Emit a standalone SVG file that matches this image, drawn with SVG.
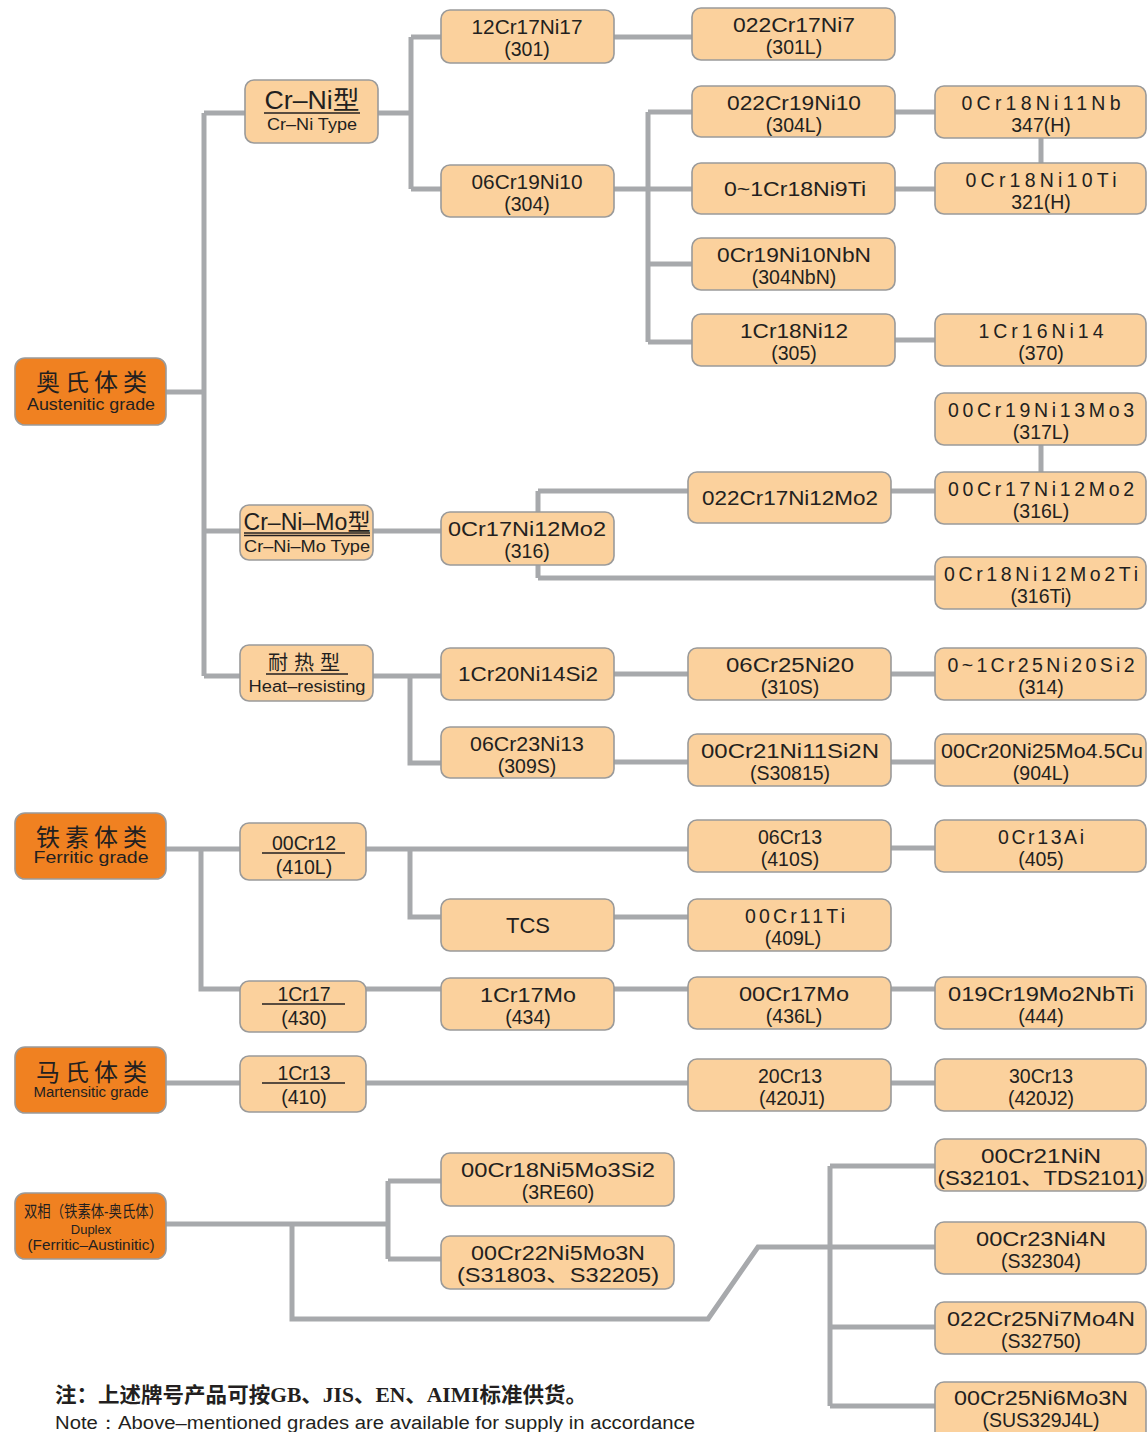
<svg xmlns="http://www.w3.org/2000/svg" width="1147" height="1432" viewBox="0 0 1147 1432">
<style>
.bg{fill:#ffffff}
.n{fill:#fbd19d;stroke:#9a9a9a;stroke-width:1.6}
.c{fill:#f08121;stroke:#9a9a9a;stroke-width:1.6}
.t{font-family:"Liberation Sans","Noto Sans CJK SC",sans-serif;font-size:19.5px;fill:#231f20;text-anchor:middle}
.sm{font-size:16px}
.cn{font-family:"Liberation Sans","Noto Sans CJK SC",sans-serif;font-size:24px;fill:#231f20;text-anchor:middle;letter-spacing:5px}
.ul{stroke:#231f20;stroke-width:1.3}
#connectors path{fill:none;stroke:#a7a9ac;stroke-width:5}
.note1{font-family:"Liberation Serif","Noto Sans CJK SC",serif;font-weight:bold;font-size:21px;fill:#231f20}
.note2{font-family:"Liberation Sans",sans-serif;font-size:18px;fill:#231f20}
</style>
<rect class="bg" x="0" y="0" width="1147" height="1432"/>
<g id="connectors">
<path d="M166,392 H204 M204,113 V676 M204,113 H245 M204,531 H240 M204,676 H240"/>
<path d="M378,113 H411 M411,37 V189 M411,37 H441 M411,189 H441"/>
<path d="M614,37 H692"/>
<path d="M614,189 H648 M648,112 V342 M648,112 H692 M648,189 H692 M648,264 H692 M648,342 H692"/>
<path d="M895,112 H935 M895,189 H935 M1041,138 V163 M895,340 H935"/>
<path d="M373,531 H441 M538,491 V578 M538,491 H688 M538,578 H935 M891,491 H935 M1041,445 V472"/>
<path d="M373,676 H441 M410,676 V763 H441 M614,674 H688 M891,674 H935 M614,762 H688 M891,762 H935"/>
<path d="M166,849 H240 M201,849 V989 H240 M366,849 H688 M410,849 V917 H441 M891,848 H935 M614,917 H688"/>
<path d="M366,989 H441 M614,989 H688 M891,989 H935"/>
<path d="M166,1083 H240 M366,1083 H688 M891,1083 H935"/>
<path d="M166,1224 H388 M388,1181 V1259 M388,1181 H441 M388,1259 H441 M292,1224 V1319 H708 L758,1247 H935 M830,1166 V1406 M830,1166 H935 M830,1327 H935 M830,1406 H935"/>
</g>

<g id="austenitic"><rect class="c" x="15" y="358" width="151" height="67" rx="10"/><text class="cn" x="94" y="391">奥氏体类</text><text class="t sm" x="91" y="410" textLength="128" lengthAdjust="spacingAndGlyphs">Austenitic grade</text></g>
<g id="ferritic"><rect class="c" x="15" y="813" width="151" height="66" rx="10"/><text class="cn" x="94" y="846">铁素体类</text><text class="t sm" x="91" y="863" textLength="115" lengthAdjust="spacingAndGlyphs">Ferritic grade</text></g>
<g id="martensitic"><rect class="c" x="15" y="1047" width="151" height="66" rx="10"/><text class="cn" x="94" y="1081">马氏体类</text><text class="t" x="91" y="1097" style="font-size:14px" textLength="115" lengthAdjust="spacingAndGlyphs">Martensitic grade</text></g>
<g id="duplex"><rect class="c" x="15" y="1193" width="151" height="66" rx="10"/><text class="t" x="93" y="1217" style="font-size:16px" textLength="138" lengthAdjust="spacingAndGlyphs">双相（铁素体-奥氏体）</text><text class="t" x="91" y="1234" style="font-size:13px">Duplex</text><text class="t" x="91" y="1250" style="font-size:14px" textLength="127" lengthAdjust="spacingAndGlyphs">(Ferritic–Austinitic)</text></g>

<g id="crni"><rect class="n" x="245" y="80" width="133" height="63" rx="9"/><text class="t" x="312" y="109" style="font-size:25px" textLength="95" lengthAdjust="spacingAndGlyphs">Cr–Ni型</text><line class="ul" x1="264" y1="113" x2="360" y2="113"/><text class="t sm" x="312" y="130" textLength="90" lengthAdjust="spacingAndGlyphs">Cr–Ni Type</text></g>
<g id="crnimo"><rect class="n" x="240" y="505" width="133" height="55" rx="9"/><text class="t" x="307" y="530" style="font-size:23px" textLength="127" lengthAdjust="spacingAndGlyphs">Cr–Ni–Mo型</text><line class="ul" x1="244" y1="533" x2="370" y2="533"/><line class="ul" x1="244" y1="535.5" x2="370" y2="535.5"/><text class="t sm" x="307" y="552" textLength="126" lengthAdjust="spacingAndGlyphs">Cr–Ni–Mo Type</text></g>
<g id="heat"><rect class="n" x="240" y="645" width="133" height="56" rx="9"/><text class="t" x="307" y="670" style="font-size:20px;letter-spacing:6px">耐热型</text><line class="ul" x1="266" y1="674" x2="348" y2="674"/><text class="t sm" x="307" y="692" textLength="117" lengthAdjust="spacingAndGlyphs">Heat–resisting</text></g>

<g id="n301"><rect class="n" x="441" y="10" width="173" height="53" rx="9"/><text class="t" x="527" y="34" textLength="111" lengthAdjust="spacingAndGlyphs">12Cr17Ni17</text><text class="t" x="527" y="56">(301)</text></g>
<g id="n304"><rect class="n" x="441" y="165" width="173" height="52" rx="9"/><text class="t" x="527" y="189" textLength="111" lengthAdjust="spacingAndGlyphs">06Cr19Ni10</text><text class="t" x="527" y="211">(304)</text></g>
<g id="n301l"><rect class="n" x="692" y="8" width="203" height="52" rx="9"/><text class="t" x="794" y="32" textLength="122" lengthAdjust="spacingAndGlyphs">022Cr17Ni7</text><text class="t" x="794" y="54">(301L)</text></g>
<g id="n304l"><rect class="n" x="692" y="86" width="203" height="51" rx="9"/><text class="t" x="794" y="110" textLength="134" lengthAdjust="spacingAndGlyphs">022Cr19Ni10</text><text class="t" x="794" y="132">(304L)</text></g>
<g id="n321"><rect class="n" x="692" y="163" width="203" height="51" rx="9"/><text class="t" x="795" y="196" textLength="142" lengthAdjust="spacingAndGlyphs">0~1Cr18Ni9Ti</text></g>
<g id="n304nbn"><rect class="n" x="692" y="238" width="203" height="52" rx="9"/><text class="t" x="794" y="262" textLength="154" lengthAdjust="spacingAndGlyphs">0Cr19Ni10NbN</text><text class="t" x="794" y="284">(304NbN)</text></g>
<g id="n305"><rect class="n" x="692" y="314" width="203" height="52" rx="9"/><text class="t" x="794" y="338" textLength="108" lengthAdjust="spacingAndGlyphs">1Cr18Ni12</text><text class="t" x="794" y="360">(305)</text></g>
<g id="n347h"><rect class="n" x="935" y="86" width="211" height="52" rx="9"/><text class="t" x="1041" y="110" textLength="159" lengthAdjust="spacing">0Cr18Ni11Nb</text><text class="t" x="1041" y="132">347(H)</text></g>
<g id="n321h"><rect class="n" x="935" y="163" width="211" height="51" rx="9"/><text class="t" x="1041" y="187" textLength="151" lengthAdjust="spacing">0Cr18Ni10Ti</text><text class="t" x="1041" y="209">321(H)</text></g>
<g id="n370"><rect class="n" x="935" y="314" width="211" height="52" rx="9"/><text class="t" x="1041" y="338" textLength="125" lengthAdjust="spacing">1Cr16Ni14</text><text class="t" x="1041" y="360">(370)</text></g>

<g id="n316"><rect class="n" x="441" y="512" width="173" height="53" rx="9"/><text class="t" x="527" y="536" textLength="158" lengthAdjust="spacingAndGlyphs">0Cr17Ni12Mo2</text><text class="t" x="527" y="558">(316)</text></g>
<g id="n022cr17"><rect class="n" x="688" y="472" width="203" height="51" rx="9"/><text class="t" x="790" y="505" textLength="176" lengthAdjust="spacingAndGlyphs">022Cr17Ni12Mo2</text></g>
<g id="n317l"><rect class="n" x="935" y="393" width="211" height="52" rx="9"/><text class="t" x="1041" y="417" textLength="186" lengthAdjust="spacing">00Cr19Ni13Mo3</text><text class="t" x="1041" y="439">(317L)</text></g>
<g id="n316l"><rect class="n" x="935" y="472" width="211" height="52" rx="9"/><text class="t" x="1041" y="496" textLength="186" lengthAdjust="spacing">00Cr17Ni12Mo2</text><text class="t" x="1041" y="518">(316L)</text></g>
<g id="n316ti"><rect class="n" x="935" y="557" width="211" height="52" rx="9"/><text class="t" x="1041" y="581" textLength="194" lengthAdjust="spacing">0Cr18Ni12Mo2Ti</text><text class="t" x="1041" y="603">(316Ti)</text></g>

<g id="n1cr20"><rect class="n" x="441" y="648" width="173" height="52" rx="9"/><text class="t" x="528" y="681" textLength="140" lengthAdjust="spacingAndGlyphs">1Cr20Ni14Si2</text></g>
<g id="n309s"><rect class="n" x="441" y="727" width="173" height="51" rx="9"/><text class="t" x="527" y="751" textLength="114" lengthAdjust="spacingAndGlyphs">06Cr23Ni13</text><text class="t" x="527" y="773">(309S)</text></g>
<g id="n310s"><rect class="n" x="688" y="648" width="203" height="52" rx="9"/><text class="t" x="790" y="672" textLength="128" lengthAdjust="spacingAndGlyphs">06Cr25Ni20</text><text class="t" x="790" y="694">(310S)</text></g>
<g id="n30815"><rect class="n" x="688" y="734" width="203" height="52" rx="9"/><text class="t" x="790" y="758" textLength="178" lengthAdjust="spacingAndGlyphs">00Cr21Ni11Si2N</text><text class="t" x="790" y="780">(S30815)</text></g>
<g id="n314"><rect class="n" x="935" y="648" width="211" height="52" rx="9"/><text class="t" x="1041" y="672" textLength="187" lengthAdjust="spacing">0~1Cr25Ni20Si2</text><text class="t" x="1041" y="694">(314)</text></g>
<g id="n904l"><rect class="n" x="935" y="734" width="211" height="52" rx="9"/><text class="t" x="1042" y="758" textLength="202" lengthAdjust="spacingAndGlyphs">00Cr20Ni25Mo4.5Cu</text><text class="t" x="1041" y="780">(904L)</text></g>

<g id="n410l"><rect class="n" x="240" y="823" width="126" height="57" rx="9"/><text class="t" x="304" y="850">00Cr12</text><line class="ul" x1="262" y1="853" x2="345" y2="853"/><text class="t" x="304" y="874">(410L)</text></g>
<g id="n430"><rect class="n" x="240" y="981" width="126" height="51" rx="9"/><text class="t" x="304" y="1001">1Cr17</text><line class="ul" x1="262" y1="1004" x2="345" y2="1004"/><text class="t" x="304" y="1025">(430)</text></g>
<g id="n410"><rect class="n" x="240" y="1056" width="126" height="56" rx="9"/><text class="t" x="304" y="1080">1Cr13</text><line class="ul" x1="262" y1="1083" x2="345" y2="1083"/><text class="t" x="304" y="1104">(410)</text></g>
<g id="ntcs"><rect class="n" x="441" y="899" width="173" height="52" rx="9"/><text class="t" x="528" y="933" style="font-size:22px">TCS</text></g>
<g id="n434"><rect class="n" x="441" y="978" width="173" height="52" rx="9"/><text class="t" x="528" y="1002" textLength="96" lengthAdjust="spacingAndGlyphs">1Cr17Mo</text><text class="t" x="528" y="1024">(434)</text></g>
<g id="n410s"><rect class="n" x="688" y="820" width="203" height="52" rx="9"/><text class="t" x="790" y="844">06Cr13</text><text class="t" x="790" y="866">(410S)</text></g>
<g id="n409l"><rect class="n" x="688" y="899" width="203" height="52" rx="9"/><text class="t" x="795" y="923" textLength="100" lengthAdjust="spacing">00Cr11Ti</text><text class="t" x="793" y="945">(409L)</text></g>
<g id="n436l"><rect class="n" x="688" y="977" width="203" height="52" rx="9"/><text class="t" x="794" y="1001" textLength="110" lengthAdjust="spacingAndGlyphs">00Cr17Mo</text><text class="t" x="794" y="1023">(436L)</text></g>
<g id="n420j1"><rect class="n" x="688" y="1059" width="203" height="52" rx="9"/><text class="t" x="790" y="1083">20Cr13</text><text class="t" x="792" y="1105">(420J1)</text></g>
<g id="n405"><rect class="n" x="935" y="820" width="211" height="52" rx="9"/><text class="t" x="1041" y="844" textLength="86" lengthAdjust="spacing">0Cr13Ai</text><text class="t" x="1041" y="866">(405)</text></g>
<g id="n444"><rect class="n" x="935" y="977" width="211" height="52" rx="9"/><text class="t" x="1041" y="1001" textLength="186" lengthAdjust="spacingAndGlyphs">019Cr19Mo2NbTi</text><text class="t" x="1041" y="1023">(444)</text></g>
<g id="n420j2"><rect class="n" x="935" y="1059" width="211" height="52" rx="9"/><text class="t" x="1041" y="1083">30Cr13</text><text class="t" x="1041" y="1105">(420J2)</text></g>

<g id="n3re60"><rect class="n" x="441" y="1153" width="233" height="53" rx="9"/><text class="t" x="558" y="1177" textLength="194" lengthAdjust="spacingAndGlyphs">00Cr18Ni5Mo3Si2</text><text class="t" x="558" y="1199">(3RE60)</text></g>
<g id="n31803"><rect class="n" x="441" y="1236" width="233" height="53" rx="9"/><text class="t" x="558" y="1260" textLength="174" lengthAdjust="spacingAndGlyphs">00Cr22Ni5Mo3N</text><text class="t" x="558" y="1282" textLength="202" lengthAdjust="spacingAndGlyphs">(S31803、S32205)</text></g>
<g id="n32101"><rect class="n" x="935" y="1139" width="211" height="52" rx="9"/><text class="t" x="1041" y="1163" textLength="120" lengthAdjust="spacingAndGlyphs">00Cr21NiN</text><text class="t" x="1041" y="1185" textLength="207" lengthAdjust="spacingAndGlyphs">(S32101、TDS2101)</text></g>
<g id="n32304"><rect class="n" x="935" y="1222" width="211" height="52" rx="9"/><text class="t" x="1041" y="1246" textLength="130" lengthAdjust="spacingAndGlyphs">00Cr23Ni4N</text><text class="t" x="1041" y="1268">(S32304)</text></g>
<g id="n32750"><rect class="n" x="935" y="1302" width="211" height="52" rx="9"/><text class="t" x="1041" y="1326" textLength="188" lengthAdjust="spacingAndGlyphs">022Cr25Ni7Mo4N</text><text class="t" x="1041" y="1348">(S32750)</text></g>
<g id="n329j4l"><rect class="n" x="935" y="1382" width="211" height="60" rx="9"/><text class="t" x="1041" y="1405" textLength="174" lengthAdjust="spacingAndGlyphs">00Cr25Ni6Mo3N</text><text class="t" x="1041" y="1427">(SUS329J4L)</text></g>

<g id="note"><text class="note1" x="55" y="1402" textLength="532" lengthAdjust="spacingAndGlyphs">注：上述牌号产品可按GB、JIS、EN、AIMI标准供货。</text><text class="note2" x="55" y="1429" textLength="640" lengthAdjust="spacingAndGlyphs">Note：Above–mentioned grades are available for supply in accordance</text></g>
</svg>
